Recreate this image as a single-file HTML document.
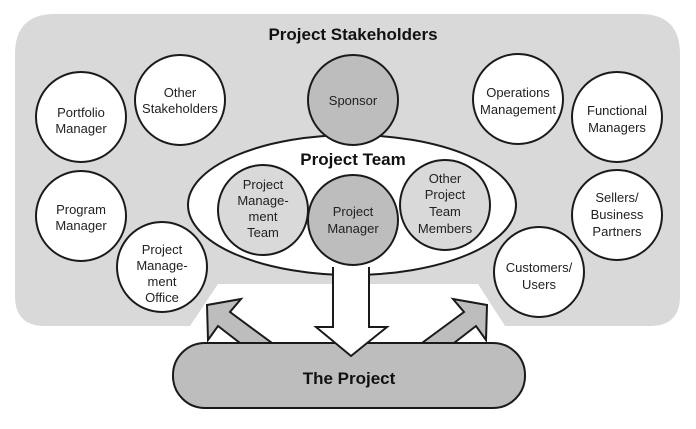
<!DOCTYPE html>
<html><head><style>
body{margin:0;background:#fff;width:696px;height:424px;overflow:hidden}
text{font-family:"Liberation Sans",sans-serif;font-size:13px;fill:#222;text-anchor:middle}
.b{font-weight:bold;font-size:17px;fill:#111}
</style></head><body>
<svg width="696" height="424" viewBox="0 0 696 424">
<path d="M55,14 H640 Q680,14 680,54 V296 Q680,326 650,326 H505 L478,284 H218 L190,326 H45 Q15,326 15,296 V54 Q15,14 55,14 Z" fill="#d9d9d9"/>
<g stroke="#1a1a1a" stroke-width="2">
<circle cx="81" cy="117" r="45" fill="#fff"/>
<circle cx="180" cy="100" r="45" fill="#fff"/>
<circle cx="81" cy="216" r="45" fill="#fff"/>
<circle cx="162" cy="267" r="45" fill="#fff"/>
<circle cx="518" cy="99" r="45" fill="#fff"/>
<circle cx="617" cy="117" r="45" fill="#fff"/>
<circle cx="617" cy="215" r="45" fill="#fff"/>
<circle cx="539" cy="272" r="45" fill="#fff"/>
<ellipse cx="352" cy="205" rx="164" ry="70" fill="#fff"/>
<rect x="173" y="343" width="352" height="65" rx="32" fill="#bdbdbd"/>
<polygon points="241,299 207,305 208,340 218,326 240,343 272,343 230,312" fill="#bdbdbd"/>
<polygon points="453,299 487,305 486,340 476,326 454,343 422,343 464,312" fill="#bdbdbd"/>
<polygon points="333,268 333,327 316,327 351,356 387,327 369,327 369,268" fill="#fff"/>
</g>
<rect x="334" y="262" width="34" height="16" fill="#fff"/>
<g stroke="#1a1a1a" stroke-width="2">
<circle cx="353" cy="100" r="45" fill="#bdbdbd"/>
<circle cx="263" cy="210" r="45" fill="#d9d9d9"/>
<circle cx="445" cy="205" r="45" fill="#d9d9d9"/>
<circle cx="353" cy="220" r="45" fill="#bdbdbd"/>
</g>
<text class="b" x="353" y="40">Project Stakeholders</text>
<text class="b" x="353" y="165">Project Team</text>
<text class="b" x="349" y="384">The Project</text>
<text x="81" y="117">Portfolio</text><text x="81" y="133">Manager</text>
<text x="180" y="97">Other</text><text x="180" y="113">Stakeholders</text>
<text x="81" y="214">Program</text><text x="81" y="230">Manager</text>
<text x="162" y="254">Project</text><text x="162" y="270">Manage-</text><text x="162" y="286">ment</text><text x="162" y="302">Office</text>
<text x="353" y="105">Sponsor</text>
<text x="518" y="97">Operations</text><text x="518" y="114">Management</text>
<text x="617" y="115">Functional</text><text x="617" y="132">Managers</text>
<text x="617" y="202">Sellers/</text><text x="617" y="219">Business</text><text x="617" y="236">Partners</text>
<text x="539" y="272">Customers/</text><text x="539" y="289">Users</text>
<text x="263" y="189">Project</text><text x="263" y="205">Manage-</text><text x="263" y="221">ment</text><text x="263" y="237">Team</text>
<text x="353" y="216">Project</text><text x="353" y="233">Manager</text>
<text x="445" y="183">Other</text><text x="445" y="199">Project</text><text x="445" y="216">Team</text><text x="445" y="233">Members</text>
</svg>
</body></html>
